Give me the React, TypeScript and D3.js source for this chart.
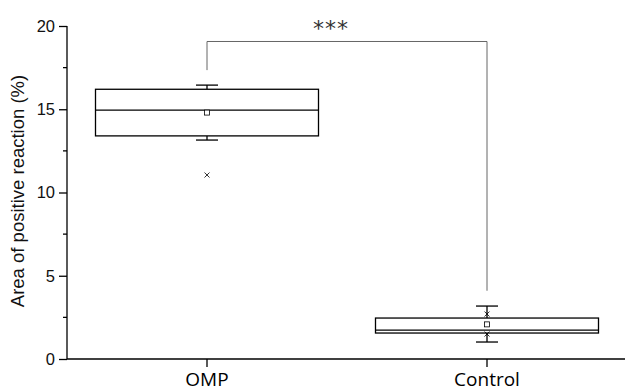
import * as d3 from 'd3';
import { useEffect, useRef } from 'react';

const groups = ['OMP', 'Control'];
const q1 = [13.4, 1.56];
const median = [14.95, 1.74];
const q3 = [16.2, 2.46];
const whiskLow = [13.15, 1.02];
const whiskHigh = [16.45, 3.18];
const means = [14.8, 2.08];
const outliers = [[11.05], [2.7, 1.5]];
const yTicks = [0, 5, 10, 15, 20];
const minorTicks = [2.5, 7.5, 12.5, 17.5];
const bracketTop = 19.07;
const bracketEnds = [17.35, 4.1];

const W = 625;
const H = 392;

export default function App() {
    const svgRef = useRef<SVGSVGElement>(null);

    useEffect(() => {
        const svg = d3.select(svgRef.current);
        svg.selectAll('*').remove();

        const x = d3.scalePoint<string>().domain(groups).range([207, 487]);
        const y = d3.scaleLinear().domain([0, 20]).range([359, 26]);
        const boxW = 223;
        const capW = 22;

        // axes
        const yAxis = svg.append('g').attr('transform', 'translate(67,0)');
        yAxis.call(d3.axisLeft(y).tickValues(yTicks).tickSize(8).tickSizeOuter(0).tickPadding(4));
        yAxis.select('.domain').attr('stroke', '#000').attr('stroke-width', 1.3).attr('d', `M0,${y(0)}V${y(20)}`);
        yAxis.selectAll('.tick line').attr('stroke-width', 1.3);
        yAxis.selectAll('.tick text').attr('font-family', 'Liberation Sans, Arial, sans-serif').attr('font-size', 16.5).attr('fill', '#111');
        yAxis.selectAll('.minor').data(minorTicks).enter().append('line')
            .attr('x1', -4).attr('x2', 0)
            .attr('y1', (d) => y(d)).attr('y2', (d) => y(d))
            .attr('stroke', '#000').attr('stroke-width', 1.3);

        svg.append('line')
            .attr('x1', 67).attr('x2', W).attr('y1', y(0)).attr('y2', y(0))
            .attr('stroke', '#000').attr('stroke-width', 1.3);

        groups.forEach((g) => {
            svg.append('line')
                .attr('x1', x(g)!).attr('x2', x(g)!).attr('y1', y(0)).attr('y2', y(0) + 8)
                .attr('stroke', '#000').attr('stroke-width', 1.3);
            svg.append('text')
                .attr('x', x(g)!).attr('y', 386)
                .attr('text-anchor', 'middle')
                .attr('font-family', 'Open Sans, Noto Sans, sans-serif')
                .attr('font-size', 19)
                .attr('fill', '#000')
                .text(g);
        });

        svg.append('text')
            .attr('transform', `translate(24,191) rotate(-90)`)
            .attr('text-anchor', 'middle')
            .attr('font-family', 'Liberation Sans, Arial, sans-serif')
            .attr('font-size', 18.5)
            .attr('fill', '#111')
            .text('Area of positive reaction (%)');

        // boxes
        groups.forEach((g, i) => {
            const cx = x(g)!;
            const bg = svg.append('g').attr('stroke', '#000').attr('stroke-width', 1.3).attr('fill', 'none');
            bg.append('line').attr('x1', cx).attr('x2', cx).attr('y1', y(whiskHigh[i])).attr('y2', y(q3[i]));
            bg.append('line').attr('x1', cx).attr('x2', cx).attr('y1', y(q1[i])).attr('y2', y(whiskLow[i]));
            bg.append('line').attr('x1', cx - capW / 2).attr('x2', cx + capW / 2).attr('y1', y(whiskHigh[i])).attr('y2', y(whiskHigh[i]));
            bg.append('line').attr('x1', cx - capW / 2).attr('x2', cx + capW / 2).attr('y1', y(whiskLow[i])).attr('y2', y(whiskLow[i]));
            bg.append('rect')
                .attr('x', cx - boxW / 2).attr('y', y(q3[i]))
                .attr('width', boxW).attr('height', y(q1[i]) - y(q3[i]))
                .attr('fill', '#fff');
            bg.append('line').attr('x1', cx - boxW / 2).attr('x2', cx + boxW / 2).attr('y1', y(median[i])).attr('y2', y(median[i]));
            bg.append('rect')
                .attr('x', cx - 2.5).attr('y', y(means[i]) - 2.5)
                .attr('width', 5).attr('height', 5)
                .attr('stroke-width', 0.8).attr('fill', '#fff');
            outliers[i].forEach((o) => {
                const oy = y(o);
                bg.append('path')
                    .attr('d', `M${cx - 2.5},${oy - 2.5}L${cx + 2.5},${oy + 2.5}M${cx + 2.5},${oy - 2.5}L${cx - 2.5},${oy + 2.5}`)
                    .attr('stroke-width', 0.8);
            });
        });

        // significance bracket
        const x0 = x(groups[0])!;
        const x1 = x(groups[1])!;
        svg.append('path')
            .attr('d', `M${x0},${y(bracketEnds[0])}V${y(bracketTop)}H${x1}V${y(bracketEnds[1])}`)
            .attr('fill', 'none')
            .attr('stroke', '#666')
            .attr('stroke-width', 1);
        svg.append('text')
            .attr('x', 331).attr('y', 36)
            .attr('text-anchor', 'middle')
            .attr('font-family', 'DejaVu Sans, sans-serif')
            .attr('font-size', 22)
            .attr('letter-spacing', 1)
            .attr('fill', '#333')
            .text('***');
    }, []);

    return (
        <svg ref={svgRef} width={W} height={H} style={{ position: 'absolute', left: 0, top: 0, background: '#fff' }} />
    );
}
